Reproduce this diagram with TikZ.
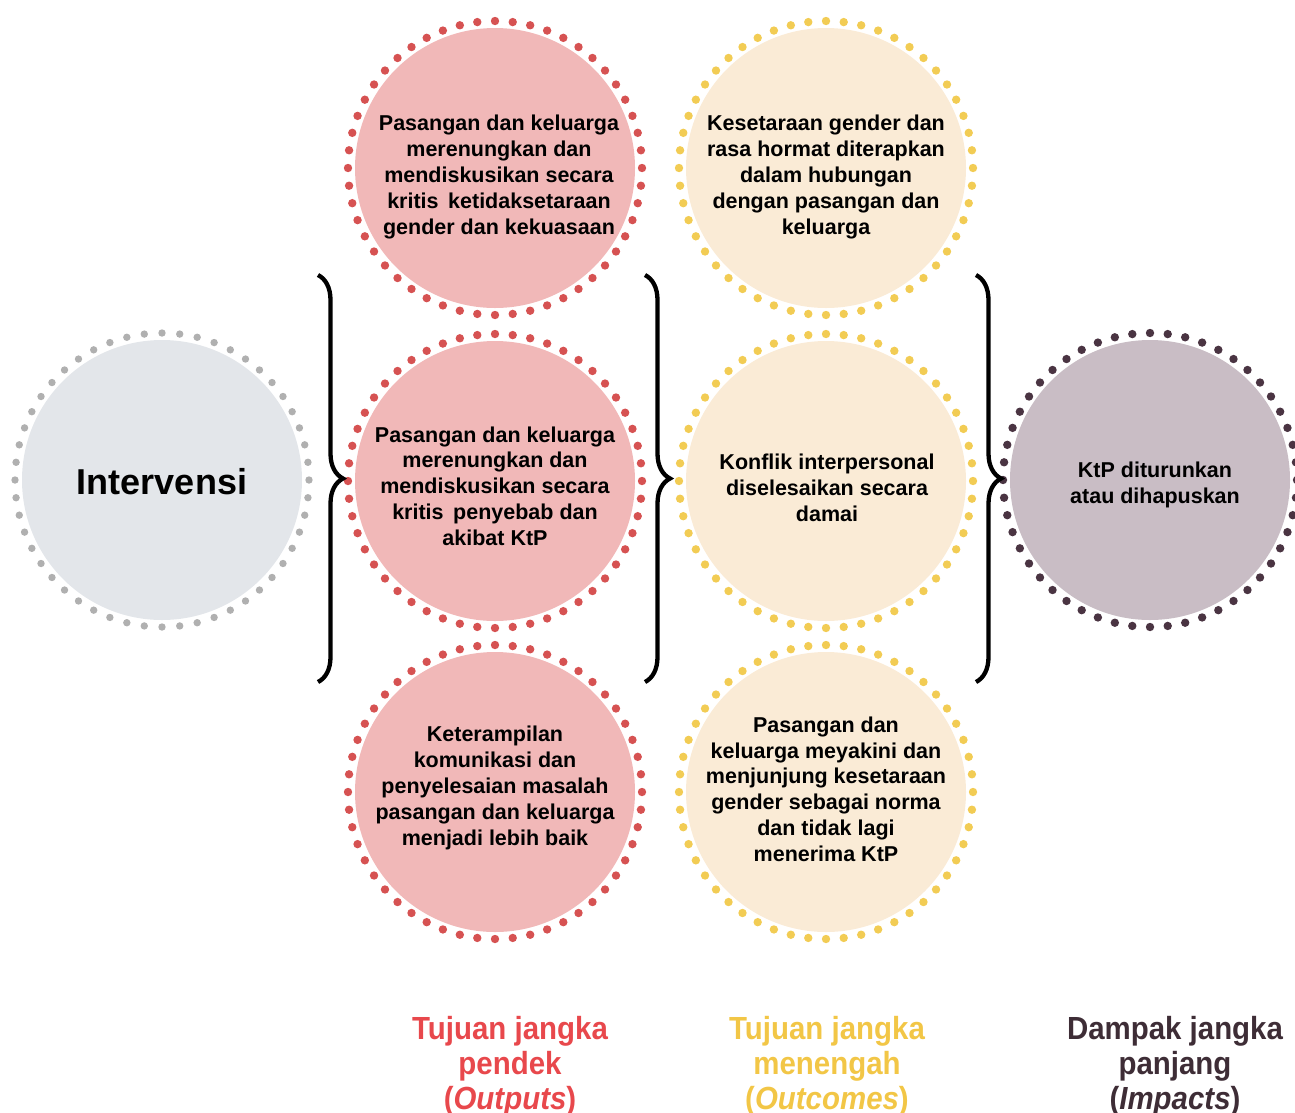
\documentclass[tikz,border=0pt]{standalone}
\usepackage{fontspec}
\setmainfont{Liberation Sans}
\newfontfamily\labfont{Liberation Sans}[FakeStretch=0.92]
\usetikzlibrary{decorations.pathreplacing}
\definecolor{redfill}{RGB}{241,184,184}
\definecolor{reddot}{RGB}{214,82,82}
\definecolor{yelfill}{RGB}{250,235,214}
\definecolor{yeldot}{RGB}{242,204,84}
\definecolor{darkfill}{RGB}{201,189,197}
\definecolor{darkdot}{RGB}{74,52,66}
\definecolor{grayfill}{RGB}{227,230,234}
\definecolor{graydot}{RGB}{176,176,176}
\definecolor{redlab}{RGB}{232,72,76}
\definecolor{yellab}{RGB}{242,198,70}
\definecolor{darklab}{RGB}{62,45,54}
\newcommand\dotring[3]{\foreach \i in {1,...,52} \fill[#2] (#1.center) ++(\i*6.923077:147) circle (#3);}
\begin{document}
\begin{tikzpicture}[x=1pt,y=-1pt,
 disc/.style={circle,minimum size=280pt,inner sep=0pt,outer sep=0pt,fill=#1},
 ctext/.style={align=center,font=\bfseries\fontsize{21.5}{25.8}\selectfont,inner sep=0pt},
 lab/.style={align=center,font=\labfont\bfseries\fontsize{32}{35}\selectfont,text=#1,inner sep=0pt},
 bracestyle/.style={decorate,decoration={brace,amplitude=25pt},line width=4.3pt}
]
\useasboundingbox (0,0) rectangle (1295,1112);

% circles
\node[disc=grayfill] (int) at (162,480) {};
\node[disc=redfill] (r1) at (495,168) {};
\node[disc=redfill] (r2) at (495,481) {};
\node[disc=redfill] (r3) at (495,792) {};
\node[disc=yelfill] (y1) at (826,168) {};
\node[disc=yelfill] (y2) at (826,481) {};
\node[disc=yelfill] (y3) at (826,792) {};
\node[disc=darkfill] (d1) at (1150,480) {};

\dotring{int}{graydot}{3.7}
\dotring{r1}{reddot}{4.2}
\dotring{r2}{reddot}{4.2}
\dotring{r3}{reddot}{4.2}
\dotring{y1}{yeldot}{4.2}
\dotring{y2}{yeldot}{4.2}
\dotring{y3}{yeldot}{4.2}
\dotring{d1}{darkdot}{4.2}

% texts
\node[font=\bfseries\fontsize{36}{40}\selectfont,inner sep=0pt] (intt) at (162,482) {Intervensi};
\node[ctext] (r1t) at (499,177) {Pasangan dan keluarga\\merenungkan dan\\mendiskusikan secara\\kritis\, ketidaksetaraan\\gender dan kekuasaan};
\node[ctext] (r2t) at (495,486) {Pasangan dan keluarga\\merenungkan dan\\mendiskusikan secara\\kritis\, penyebab dan\\akibat KtP};
\node[ctext] (r3t) at (495,788) {Keterampilan\\komunikasi dan\\penyelesaian masalah\\pasangan dan keluarga\\menjadi lebih baik};
\node[ctext] (y1t) at (826,177) {Kesetaraan gender dan\\rasa hormat diterapkan\\dalam hubungan\\dengan pasangan dan\\keluarga};
\node[ctext] (y2t) at (827,488) {Konflik interpersonal\\diselesaikan secara\\damai};
\node[ctext] (y3t) at (826,789) {Pasangan dan\\keluarga meyakini dan\\menjunjung kesetaraan\\gender sebagai norma\\dan tidak lagi\\menerima KtP};
\node[ctext] (d1t) at (1155,485) {KtP diturunkan\\atau dihapuskan};

% braces
\coordinate (b1t) at (318,275); \coordinate (b1b) at (318,682);
\coordinate (b2t) at (645,275); \coordinate (b2b) at (645,682);
\coordinate (b3t) at (976,275); \coordinate (b3b) at (976,682);
\draw[bracestyle] (b1t) -- (b1b);
\draw[bracestyle] (b2t) -- (b2b);
\draw[bracestyle] (b3t) -- (b3b);

% bottom labels
\node[lab=redlab] (l1) at (510,1066) {Tujuan jangka\\pendek\\(\textit{Outputs})};
\node[lab=yellab] (l2) at (827,1066) {Tujuan jangka\\menengah\\(\textit{Outcomes})};
\node[lab=darklab] (l3) at (1175,1066) {Dampak jangka\\panjang\\(\textit{Impacts})};
\end{tikzpicture}
\end{document}
